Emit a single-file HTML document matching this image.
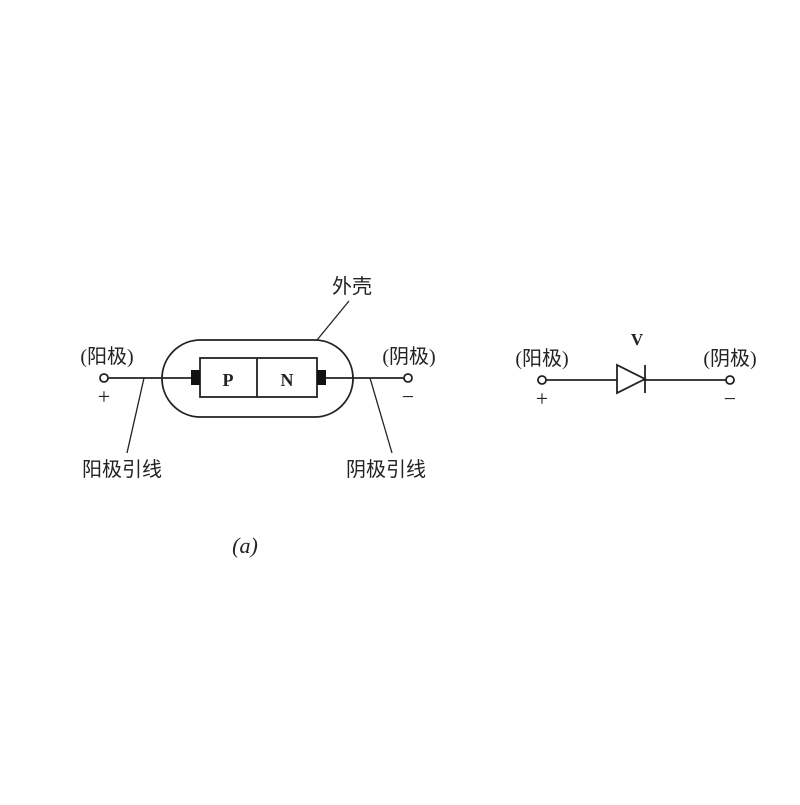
<!DOCTYPE html>
<html><head><meta charset="utf-8"><style>
html,body{margin:0;padding:0;background:#fff;}
svg text{font-family:"Liberation Serif","Noto Sans CJK SC",serif;fill:#222;}
</style></head><body>
<svg width="800" height="800" viewBox="0 0 800 800" xmlns="http://www.w3.org/2000/svg">
<rect width="800" height="800" fill="#fff"/>
<g stroke="#222" stroke-width="1.8" fill="none">
  <rect x="162" y="340" width="191" height="77" rx="38.5"/>
  <line x1="108" y1="378" x2="191" y2="378"/>
  <line x1="326" y1="378" x2="404" y2="378"/>
  <rect x="200" y="358" width="117" height="39" fill="#fff"/>
  <line x1="257" y1="358" x2="257" y2="397"/>
  <circle cx="104" cy="378" r="4" fill="#fff"/>
  <circle cx="408" cy="378" r="4" fill="#fff"/>
  <line x1="144" y1="378" x2="127" y2="453" stroke-width="1.3"/>
  <line x1="370" y1="378" x2="392" y2="453" stroke-width="1.3"/>
  <line x1="317" y1="340" x2="349" y2="301" stroke-width="1.3"/>
  <line x1="546" y1="380" x2="726" y2="380"/>
  <polygon points="617,365 617,393 645,379" fill="#fff"/>
  <line x1="645" y1="365" x2="645" y2="393"/>
  <circle cx="542" cy="380" r="4" fill="#fff"/>
  <circle cx="730" cy="380" r="4" fill="#fff"/>
</g>
<rect x="191" y="370" width="9" height="15" fill="#111"/>
<rect x="317" y="370" width="9" height="15" fill="#111"/>
<g font-size="20">
  <text x="228" y="386" text-anchor="middle" font-weight="bold" font-size="18">P</text>
  <text x="287" y="386" text-anchor="middle" font-weight="bold" font-size="18">N</text>
  <text x="107" y="363" text-anchor="middle">(阳极)</text>
  <text x="409" y="363" text-anchor="middle">(阴极)</text>
  <text x="104" y="404" text-anchor="middle" fill="#555" font-size="22">+</text>
  <text x="408" y="404" text-anchor="middle" fill="#555" font-size="22">−</text>
  <text x="122" y="476" text-anchor="middle">阳极引线</text>
  <text x="386" y="476" text-anchor="middle">阴极引线</text>
  <text x="352" y="293" text-anchor="middle">外壳</text>
  <text x="245" y="553" text-anchor="middle" font-style="italic" font-size="22">(a)</text>
  <text x="542" y="365" text-anchor="middle">(阳极)</text>
  <text x="730" y="365" text-anchor="middle">(阴极)</text>
  <text x="542" y="406" text-anchor="middle" fill="#555" font-size="22">+</text>
  <text x="730" y="406" text-anchor="middle" fill="#555" font-size="22">−</text>
  <text x="637" y="345" text-anchor="middle" font-weight="bold" font-size="17">V</text>
</g>
</svg>
</body></html>
